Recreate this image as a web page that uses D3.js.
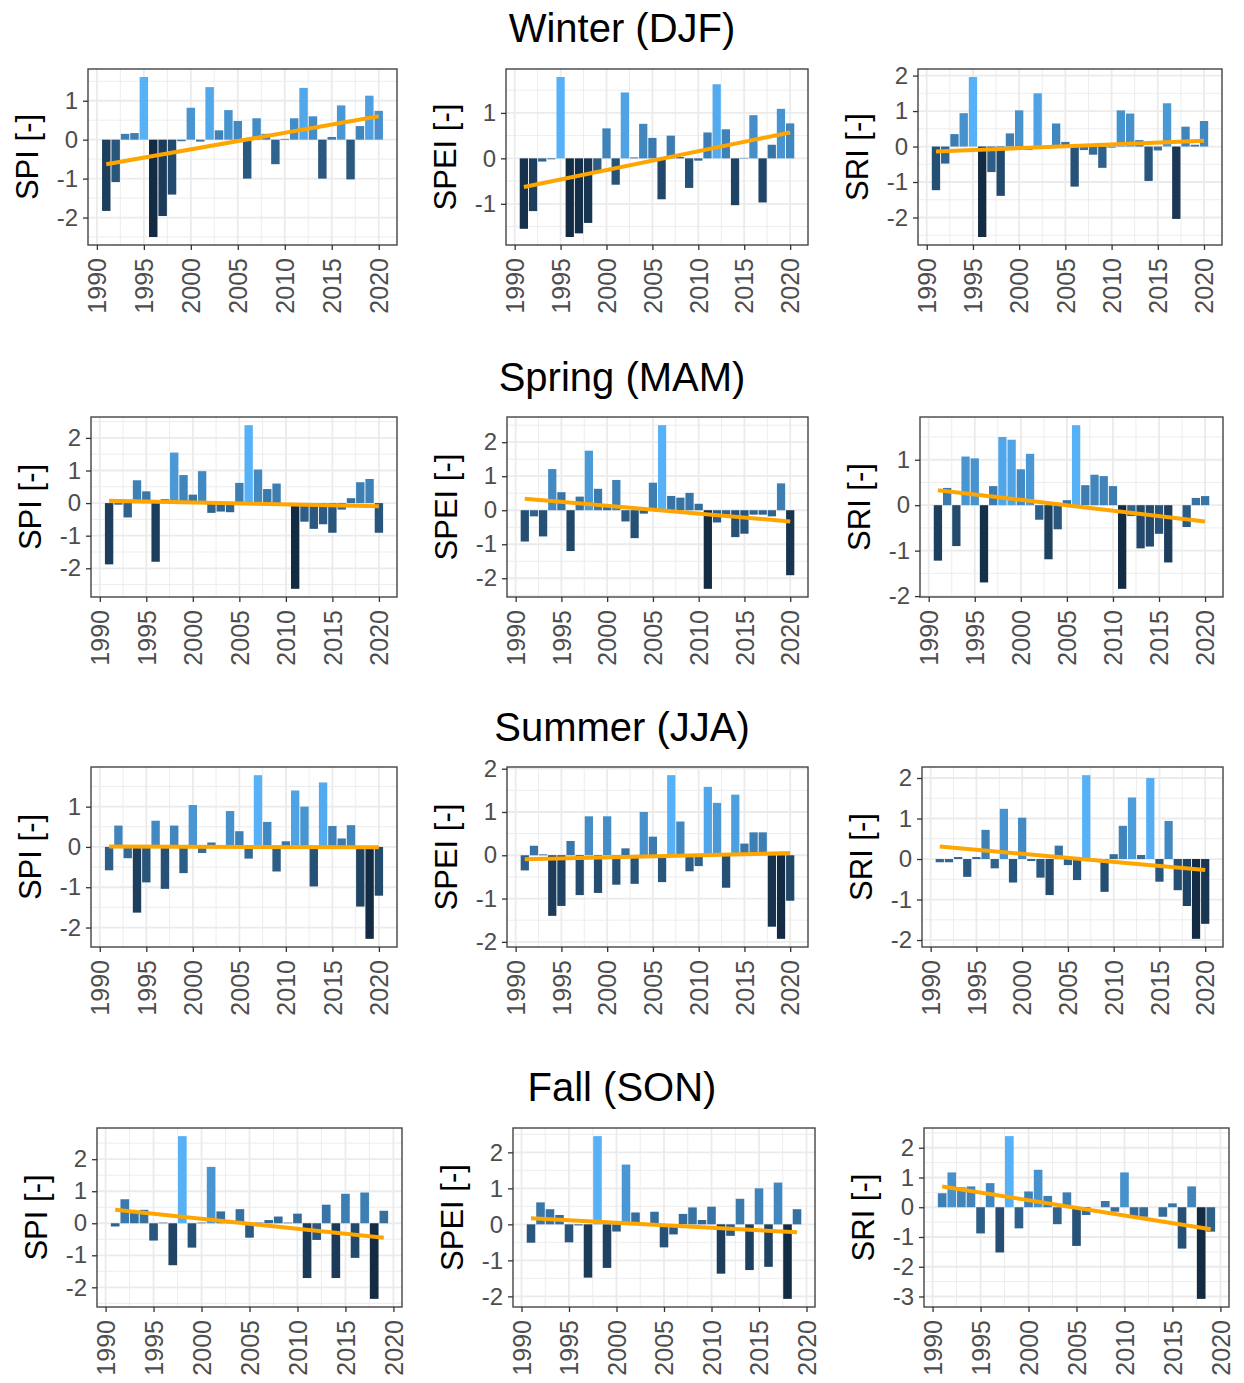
<!DOCTYPE html>
<html>
<head>
<meta charset="utf-8">
<script src="https://cdn.jsdelivr.net/npm/d3@7"></script>
<style>
body { margin: 0; background: #fff; }
svg text { font-family: "Liberation Sans", Arial, Helvetica, sans-serif; }
</style>
</head>
<body>
<svg id="chart" width="1244" height="1383"></svg>
<script>
// ---- data ----
var years = [1991, 1992, 1993, 1994, 1995, 1996, 1997, 1998, 1999, 2000,
             2001, 2002, 2003, 2004, 2005, 2006, 2007, 2008, 2009, 2010,
             2011, 2012, 2013, 2014, 2015, 2016, 2017, 2018, 2019, 2020];
var yearsFall = [1991, 1992, 1993, 1994, 1995, 1996, 1997, 1998, 1999, 2000,
                 2001, 2002, 2003, 2004, 2005, 2006, 2007, 2008, 2009, 2010,
                 2011, 2012, 2013, 2014, 2015, 2016, 2017, 2018, 2019];
var seasons = ["Winter (DJF)", "Spring (MAM)", "Summer (JJA)", "Fall (SON)"];
var indices = ["SPI", "SPEI", "SRI"];
var xTicks = [1990, 1995, 2000, 2005, 2010, 2015, 2020];

var winterSPI  = [-1.83, -1.09, 0.15, 0.17, 1.61, -2.5, -1.96, -1.41, -0.04, 0.82, -0.05, 1.35, 0.24, 0.76, 0.48, -1.0, 0.55, 0.15, -0.63, 0.02, 0.55, 1.33, 0.6, -1.0, 0.07, 0.88, -1.02, 0.35, 1.13, 0.74];
var winterSPEI = [-1.55, -1.16, -0.07, -0.02, 1.79, -1.73, -1.65, -1.42, -0.3, 0.66, -0.58, 1.45, 0.02, 0.76, 0.45, -0.9, 0.5, 0.03, -0.65, -0.05, 0.57, 1.63, 0.64, -1.03, 0.01, 0.95, -0.97, 0.3, 1.09, 0.77];
var winterSRI  = [-1.23, -0.48, 0.35, 0.94, 1.96, -2.55, -0.72, -1.39, 0.37, 1.02, -0.1, 1.5, -0.05, 0.65, 0.13, -1.13, -0.1, -0.23, -0.6, -0.03, 1.02, 0.93, 0.18, -0.97, -0.11, 1.22, -2.04, 0.56, 0.05, 0.72];

var springSPI  = [-1.88, -0.05, -0.44, 0.7, 0.36, -1.8, 0.12, 1.55, 0.86, 0.26, 0.98, -0.3, -0.26, -0.28, 0.62, 2.39, 1.03, 0.43, 0.6, -0.05, -2.63, -0.57, -0.79, -0.65, -0.91, -0.2, 0.15, 0.64, 0.74, -0.91];
var springSPEI = [-0.92, -0.18, -0.77, 1.21, 0.53, -1.2, 0.4, 1.75, 0.63, 0.1, 0.89, -0.33, -0.82, -0.1, 0.81, 2.5, 0.42, 0.37, 0.51, 0.19, -2.31, -0.36, -0.13, -0.79, -0.69, -0.13, -0.13, -0.18, 0.79, -1.91];
var springSRI  = [-1.22, 0.38, -0.9, 1.07, 1.03, -1.7, 0.42, 1.5, 1.44, 0.79, 1.13, -0.32, -1.19, -0.53, 0.11, 1.76, 0.44, 0.67, 0.64, 0.42, -1.84, -0.24, -0.95, -0.91, -0.63, -1.26, 0.0, -0.48, 0.16, 0.2];

var summerSPI  = [-0.58, 0.53, -0.28, -1.63, -0.88, 0.65, -1.04, 0.53, -0.65, 1.04, -0.15, 0.11, 0.02, 0.89, 0.39, -0.29, 1.78, 0.62, -0.61, 0.14, 1.4, 1.0, -0.98, 1.6, 0.52, 0.21, 0.54, -1.48, -2.28, -1.21];
var summerSPEI = [-0.35, 0.22, 0.02, -1.4, -1.17, 0.33, -0.92, 0.9, -0.87, 0.9, -0.68, 0.16, -0.66, 1.0, 0.43, -0.62, 1.85, 0.78, -0.37, -0.25, 1.58, 1.21, -0.75, 1.4, 0.27, 0.53, 0.53, -1.65, -1.93, -1.05];
var summerSRI  = [-0.08, -0.08, 0.05, -0.44, 0.05, 0.72, -0.23, 1.24, -0.58, 1.02, -0.05, -0.46, -0.89, 0.33, -0.15, -0.52, 2.07, 0.0, -0.81, 0.12, 0.82, 1.52, 0.1, 2.0, -0.56, 0.94, -0.77, -1.16, -1.97, -1.6];

var fallSPI  = [-0.1, 0.75, 0.37, 0.42, -0.54, 0.02, -1.31, 2.72, -0.76, 0.02, 1.76, 0.37, 0.05, 0.44, -0.45, 0.02, 0.1, 0.21, 0.02, 0.3, -1.71, -0.52, 0.58, -1.71, 0.92, -1.08, 0.96, -2.36, 0.39];
var fallSPEI = [-0.51, 0.61, 0.42, 0.26, -0.5, -0.03, -1.48, 2.45, -1.21, -0.2, 1.66, 0.33, 0.02, 0.35, -0.64, -0.28, 0.29, 0.47, 0.12, 0.49, -1.37, -0.32, 0.71, -1.27, 1.0, -1.18, 1.16, -2.07, 0.42];
var fallSRI  = [0.47, 1.17, 0.67, 0.7, -0.88, 0.81, -1.52, 2.39, -0.71, 0.53, 1.26, 0.38, -0.57, 0.5, -1.3, -0.26, 0.0, 0.21, -0.15, 1.17, -0.32, -0.32, 0.0, -0.32, 0.13, -1.39, 0.7, -3.08, -0.82];

// linear trend: value at first year, value at last year
var winterTrend = [[-0.63, 0.6], [-0.63, 0.57], [-0.14, 0.16]];
var springTrend = [[0.07, -0.1], [0.34, -0.33], [0.33, -0.36]];
var summerTrend = [[0.01, -0.01], [-0.09, 0.05], [0.31, -0.27]];
var fallTrend   = [[0.42, -0.45], [0.17, -0.22], [0.7, -0.74]];

// ---- layout ----
var rowTop = [69, 417, 767, 1128];
var rowBottom = [245, 597, 947, 1307];
var titleY = [42, 391, 741, 1101];
var colEdges = [
    [[88, 397], [506, 808], [918, 1222]],
    [[91, 397], [507, 808], [920, 1223]],
    [[91, 397], [507, 808], [922, 1223]],
    [[97, 402], [513, 815], [924, 1229]]
];

var rows = [
    {years: years, series: [winterSPI, winterSPEI, winterSRI], trend: winterTrend},
    {years: years, series: [springSPI, springSPEI, springSRI], trend: springTrend},
    {years: years, series: [summerSPI, summerSPEI, summerSRI], trend: summerTrend},
    {years: yearsFall, series: [fallSPI, fallSPEI, fallSRI], trend: fallTrend}
];

var svg = d3.select("#chart");

function halfSteps(lo, hi, step, offset) {
    var out = [];
    for (var v = Math.ceil((lo - offset) / step) * step + offset; v <= hi + 1e-9; v += step) {
        out.push(v);
    }
    return out;
}

function drawPanel(yrs, vals, trend, label, left, right, top, bottom) {
    var g = svg.append("g");

    var x0 = yrs[0] - 0.45, x1 = yrs[yrs.length - 1] + 0.45;
    var xs = (x1 - x0) * 0.05;
    var x = d3.scaleLinear().domain([x0 - xs, x1 + xs]).range([left, right]);

    var lo = Math.min(0, d3.min(vals)), hi = Math.max(0, d3.max(vals));
    var ys = (hi - lo) * 0.05;
    var y = d3.scaleLinear().domain([lo - ys, hi + ys]).range([bottom, top]);

    var fill = d3.scaleLinear().domain([d3.min(vals), d3.max(vals)])
        .range(["#132B43", "#56B1F7"]).interpolate(d3.interpolateLab);

    var xd = x.domain(), yd = y.domain();

    // grid
    g.selectAll(".xminor").data(halfSteps(xd[0], xd[1], 5, 2.5)).enter().append("line")
        .attr("x1", d => x(d)).attr("x2", d => x(d)).attr("y1", top).attr("y2", bottom)
        .attr("stroke", "#EBEBEB").attr("stroke-width", 0.9);
    g.selectAll(".yminor").data(halfSteps(yd[0], yd[1], 1, 0.5)).enter().append("line")
        .attr("y1", d => y(d)).attr("y2", d => y(d)).attr("x1", left).attr("x2", right)
        .attr("stroke", "#EBEBEB").attr("stroke-width", 0.9);
    var xMajor = xTicks.filter(d => d >= xd[0] && d <= xd[1]);
    var yMajor = halfSteps(yd[0], yd[1], 1, 0);
    g.selectAll(".xmajor").data(xMajor).enter().append("line")
        .attr("x1", d => x(d)).attr("x2", d => x(d)).attr("y1", top).attr("y2", bottom)
        .attr("stroke", "#EBEBEB").attr("stroke-width", 1.8);
    g.selectAll(".ymajor").data(yMajor).enter().append("line")
        .attr("y1", d => y(d)).attr("y2", d => y(d)).attr("x1", left).attr("x2", right)
        .attr("stroke", "#EBEBEB").attr("stroke-width", 1.8);

    // bars
    g.selectAll(".bar").data(vals).enter().append("rect")
        .attr("x", (d, i) => x(yrs[i] - 0.45))
        .attr("width", (d, i) => x(yrs[i] + 0.45) - x(yrs[i] - 0.45))
        .attr("y", d => Math.min(y(d), y(0)))
        .attr("height", d => Math.abs(y(d) - y(0)))
        .attr("fill", d => fill(d));

    // trend
    g.append("line")
        .attr("x1", x(yrs[0])).attr("y1", y(trend[0]))
        .attr("x2", x(yrs[yrs.length - 1])).attr("y2", y(trend[1]))
        .attr("stroke", "#FFA500").attr("stroke-width", 4).attr("stroke-linecap", "butt");

    // border
    g.append("rect").attr("x", left).attr("y", top)
        .attr("width", right - left).attr("height", bottom - top)
        .attr("fill", "none").attr("stroke", "#444").attr("stroke-width", 1.4);

    // y axis
    var yAxis = d3.axisLeft(y).tickValues(yMajor).tickSize(5).tickPadding(5)
        .tickFormat(d3.format("d"));
    var ya = g.append("g").attr("transform", "translate(" + left + ",0)").call(yAxis);
    ya.select(".domain").remove();
    ya.selectAll(".tick line").attr("stroke", "#333").attr("stroke-width", 1.3);
    ya.selectAll(".tick text").attr("fill", "#4D4D4D")
        .style("font-size", "24px").style("font-family", "'Liberation Sans', Arial, sans-serif")
        .text(d => d < 0 ? "-" + Math.abs(d) : d);

    // x axis
    var xAxis = d3.axisBottom(x).tickValues(xMajor).tickSize(5).tickFormat(d3.format("d"));
    var xa = g.append("g").attr("transform", "translate(0," + bottom + ")").call(xAxis);
    xa.select(".domain").remove();
    xa.selectAll(".tick line").attr("stroke", "#333").attr("stroke-width", 1.3);
    xa.selectAll(".tick text").attr("fill", "#4D4D4D")
        .style("font-size", "25px").style("font-family", "'Liberation Sans', Arial, sans-serif")
        .attr("transform", "rotate(-90)")
        .attr("x", -13).attr("y", 0).attr("dy", "0.35em")
        .attr("text-anchor", "end");

    // y title
    g.append("text")
        .attr("transform", "translate(" + (left - 61) + "," + ((top + bottom) / 2) + ") rotate(-90)")
        .attr("text-anchor", "middle").attr("dy", "0.35em")
        .style("font-size", "31px").attr("fill", "#000")
        .text(label + " [-]");
}

rows.forEach(function (row, r) {
    svg.append("text").attr("x", 622).attr("y", titleY[r])
        .attr("text-anchor", "middle").style("font-size", "40px").attr("fill", "#000")
        .text(seasons[r]);
    row.series.forEach(function (vals, c) {
        drawPanel(row.years, vals, row.trend[c], indices[c],
            colEdges[r][c][0], colEdges[r][c][1], rowTop[r], rowBottom[r]);
    });
});
</script>
</body>
</html>
